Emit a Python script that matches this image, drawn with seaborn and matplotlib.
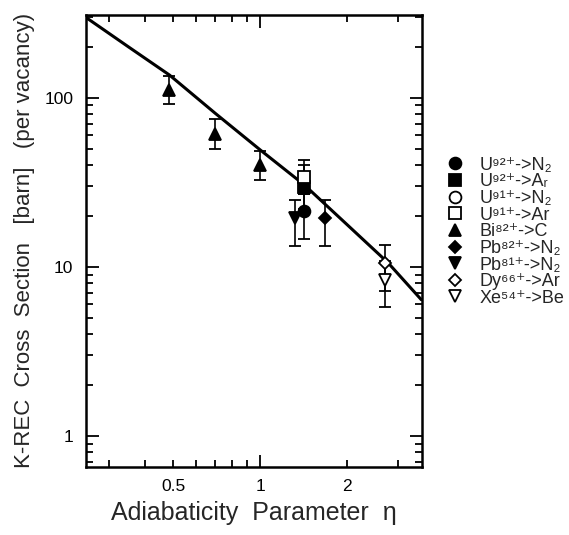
import numpy as np
import pandas as pd
import matplotlib
matplotlib.use("Agg")
import matplotlib.pyplot as plt
import matplotlib.ticker as mticker
from matplotlib.lines import Line2D
import seaborn as sns

# ---------------- data ----------------
line_eta = [0.25, 0.35, 0.486, 0.70, 1.0, 1.42, 2.0, 2.76, 3.6]
line_sigma = [298, 200, 136, 80.7, 49.1, 30.5, 17.7, 10.6, 6.4]

labels = ["U⁹²⁺->N₂", "U⁹²⁺->Aᵣ", "U⁹¹⁺->N₂", "U⁹¹⁺->Ar",
          "Bi⁸²⁺->C", "Pb⁸²⁺->N₂", "Pb⁸¹⁺->N₂", "Dy⁶⁶⁺->Ar",
          "Xe⁵⁴⁺->Be"]
u92n2_x, u92n2_y, u92n2_lo, u92n2_hi = [1.42], [21.4], [14.6], [27.0]
u92ar_x, u92ar_y, u92ar_lo, u92ar_hi = [1.42], [29.7], [22.0], [40.0]
u91n2_x, u91n2_y, u91n2_lo, u91n2_hi = [], [], [], []
u91ar_x, u91ar_y, u91ar_lo, u91ar_hi = [1.42], [33.9], [27.0], [43.0]
bi_x, bi_y, bi_lo, bi_hi = [0.483, 0.70, 1.0], [111, 61.1, 39.8], [91.4, 49.8, 32.7], [135, 74.5, 48.4]
pb82_x, pb82_y, pb82_lo, pb82_hi = [1.675], [19.4], [13.3], [24.9]
pb81_x, pb81_y, pb81_lo, pb81_hi = [1.32], [19.4], [13.3], [24.7]
dy_x, dy_y, dy_lo, dy_hi = [2.69], [10.6], [7.2], [13.5]
xe_x, xe_y, xe_lo, xe_hi = [2.69], [8.4], [5.8], [10.8]

series = [
    (u92n2_x, u92n2_y, u92n2_lo, u92n2_hi, "o", True, 8.5),
    (u92ar_x, u92ar_y, u92ar_lo, u92ar_hi, "s", True, 8),
    (u91n2_x, u91n2_y, u91n2_lo, u91n2_hi, "o", False, 8.5),
    (u91ar_x, u91ar_y, u91ar_lo, u91ar_hi, "s", False, 8),
    (bi_x, bi_y, bi_lo, bi_hi, "^", True, 9),
    (pb82_x, pb82_y, pb82_lo, pb82_hi, "D", True, 6.5),
    (pb81_x, pb81_y, pb81_lo, pb81_hi, "v", True, 9),
    (dy_x, dy_y, dy_lo, dy_hi, "D", False, 6.5),
    (xe_x, xe_y, xe_lo, xe_hi, "v", False, 9),
]

# ---------------- style ----------------
sns.set_theme(style="ticks")
plt.rcParams['font.family'] = ['Liberation Sans', 'DejaVu Sans']

fig = plt.figure(figsize=(5.69, 5.35), dpi=100)
ax = fig.add_axes([0.151, 0.128, 0.590, 0.844])

df_line = pd.DataFrame({"eta": line_eta, "sigma": line_sigma})
sns.lineplot(data=df_line, x="eta", y="sigma", ax=ax, color="black", lw=2.2,
             legend=False, zorder=2)

handles = []
for (xs, ys, lo, hi, m, filled, ms), lab in zip(series, labels):
    if len(xs):
        yerr = np.array([np.array(ys) - np.array(lo), np.array(hi) - np.array(ys)])
        ax.errorbar(xs, ys, yerr=yerr, fmt=m, ms=ms, mec="black",
                    mfc="black" if filled else "white", mew=1.3,
                    ecolor="black", elinewidth=1.2, capsize=4, capthick=1.2, zorder=3)
    handles.append(Line2D([], [], ls="none", marker=m, ms=ms, mec="black",
                          mfc="black" if filled else "white", mew=1.3, label=lab))

ax.set_xscale("log")
ax.set_yscale("log")
ax.set_xlim(0.25, 3.61)
ax.set_ylim(0.661, 308)

ax.xaxis.set_major_locator(mticker.FixedLocator([1]))
ax.xaxis.set_minor_locator(mticker.FixedLocator([0.3, 0.4, 0.5, 0.6, 0.7, 0.8, 0.9, 2, 3]))
ax.xaxis.set_major_formatter(mticker.FixedFormatter(["1"]))
ax.xaxis.set_minor_formatter(mticker.FuncFormatter(
    lambda v, p: {0.5: "0.5", 2: "2"}.get(round(v, 2), "")))
ax.yaxis.set_major_locator(mticker.FixedLocator([1, 10, 100]))
ax.yaxis.set_major_formatter(mticker.FixedFormatter(["1", "10", "100"]))
ax.yaxis.set_minor_locator(mticker.LogLocator(base=10, subs=np.arange(2, 10), numticks=20))
ax.yaxis.set_minor_formatter(mticker.NullFormatter())

ax.tick_params(which="both", direction="in", top=True, right=True, width=1.3,
               labelsize=12.5, colors="black", pad=9)
ax.tick_params(which="major", length=9)
ax.tick_params(which="minor", length=5)
for s in ax.spines.values():
    s.set_linewidth(1.8)
    s.set_color("black")

ax.set_xlabel("Adiabaticity  Parameter  η", fontsize=18, labelpad=5)
ax.set_ylabel("K-REC  Cross  Section   [barn]   (per vacancy)", fontsize=16, labelpad=7)

fig.legend(handles=handles, loc="upper left", bbox_to_anchor=(0.765, 0.724),
           frameon=False, fontsize=13, handletextpad=0.75, labelspacing=-0.02,
           handlelength=1.2, borderpad=0)

fig.savefig("out.png", dpi=100, facecolor="white")
